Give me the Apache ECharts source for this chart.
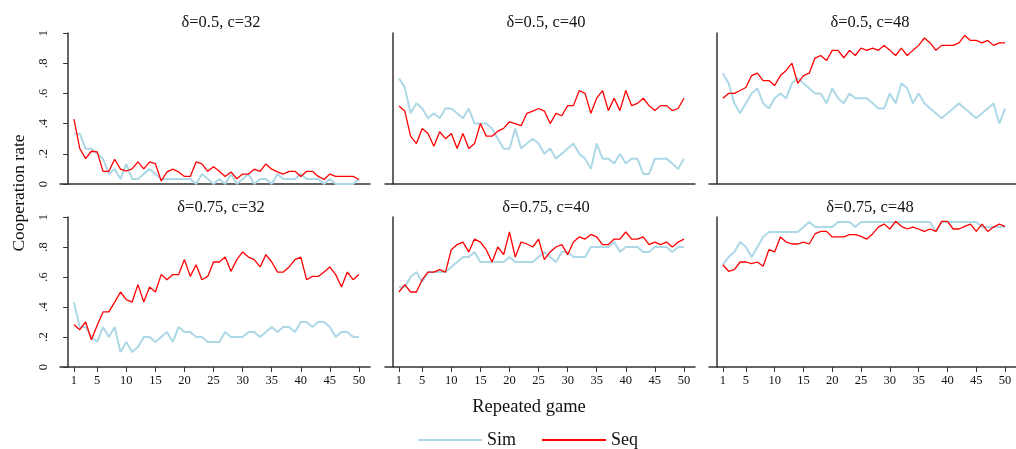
<!DOCTYPE html>
<html>
<head>
<meta charset="utf-8">
<script src="https://cdn.jsdelivr.net/npm/echarts@6/dist/echarts.min.js"></script>
<style>
html,body{margin:0;padding:0;background:#fff;}
#chart{width:1016px;height:449px;}
</style>
</head>
<body>
<div id="chart"></div>
<script>
const games = [1,2,3,4,5,6,7,8,9,10,11,12,13,14,15,16,17,18,19,20,21,22,23,24,25,26,27,28,29,30,31,32,33,34,35,36,37,38,39,40,41,42,43,44,45,46,47,48,49,50];
const xTicks = [1,5,10,15,20,25,30,35,40,45,50];
const panelTitles = ['δ=0.5, c=32','δ=0.5, c=40','δ=0.5, c=48','δ=0.75, c=32','δ=0.75, c=40','δ=0.75, c=48'];

const sim_d05_c32 = [.333,.333,.233,.233,.2,.167,.067,.1,.033,.133,.033,.033,.067,.1,.067,.033,.033,.033,.033,.033,.033,0,.067,.033,0,.033,0,.067,0,.033,.067,0,.033,.033,0,.067,.033,.033,.033,.067,.033,.033,.033,0,.033,0,0,0,0,.033];
const seq_d05_c32 = [.43,.235,.168,.217,.213,.084,.084,.164,.098,.086,.1,.146,.1,.146,.135,.02,.08,.098,.08,.05,.05,.146,.133,.084,.115,.084,.05,.08,.035,.066,.066,.098,.084,.133,.098,.08,.066,.084,.084,.05,.084,.084,.05,.03,.066,.05,.05,.05,.05,.03];

const sim_d05_c40 = [.70,.64,.468,.534,.50,.435,.468,.435,.50,.50,.468,.435,.50,.40,.40,.40,.368,.30,.233,.233,.368,.235,.268,.30,.268,.20,.235,.168,.2,.235,.268,.2,.168,.10,.268,.168,.168,.135,.2,.135,.168,.168,.067,.067,.168,.168,.168,.135,.10,.168];
const seq_d05_c40 = [.517,.483,.317,.268,.368,.335,.25,.346,.30,.335,.235,.335,.235,.268,.40,.317,.317,.35,.368,.412,.40,.386,.468,.483,.50,.483,.40,.468,.452,.519,.519,.619,.60,.468,.568,.619,.486,.568,.486,.619,.519,.534,.568,.519,.486,.519,.519,.486,.50,.568];

const sim_d05_c48 = [.734,.667,.534,.468,.534,.60,.634,.534,.50,.568,.60,.568,.667,.70,.667,.634,.60,.60,.534,.634,.568,.534,.60,.568,.568,.568,.534,.50,.50,.60,.534,.667,.634,.534,.60,.534,.50,.468,.435,.468,.50,.534,.50,.468,.435,.468,.50,.534,.40,.50];
const seq_d05_c48 = [.568,.60,.60,.619,.639,.718,.734,.685,.685,.652,.718,.752,.80,.667,.718,.734,.834,.851,.818,.885,.885,.836,.885,.851,.90,.885,.90,.885,.918,.885,.851,.90,.851,.885,.918,.967,.934,.885,.918,.918,.918,.934,.984,.951,.951,.934,.951,.918,.934,.934];

const sim_d075_c32 = [.431,.267,.267,.20,.167,.267,.20,.267,.10,.167,.10,.133,.20,.20,.167,.20,.233,.167,.267,.233,.233,.20,.20,.167,.167,.167,.233,.20,.20,.20,.233,.233,.20,.233,.267,.233,.267,.267,.233,.30,.30,.267,.30,.30,.267,.20,.233,.233,.20,.20];
const seq_d075_c32 = [.282,.249,.30,.182,.278,.367,.367,.433,.50,.449,.433,.549,.433,.533,.50,.616,.582,.616,.616,.716,.604,.682,.582,.604,.70,.70,.733,.638,.716,.767,.733,.716,.667,.749,.70,.633,.633,.667,.716,.733,.582,.604,.604,.633,.667,.616,.533,.633,.582,.616];

const sim_d075_c40 = [.533,.533,.60,.633,.567,.633,.633,.633,.633,.667,.70,.733,.733,.767,.70,.70,.70,.70,.70,.733,.70,.70,.70,.70,.733,.767,.733,.70,.767,.767,.733,.733,.733,.80,.80,.80,.80,.833,.767,.80,.80,.80,.767,.767,.80,.80,.80,.767,.80,.80];
const seq_d075_c40 = [.50,.549,.50,.50,.582,.633,.633,.649,.633,.782,.816,.833,.767,.853,.833,.782,.70,.80,.749,.90,.733,.833,.82,.80,.853,.716,.767,.80,.816,.749,.833,.867,.853,.884,.867,.816,.816,.853,.853,.90,.853,.853,.867,.816,.833,.816,.833,.80,.833,.853];

const sim_d075_c48 = [.682,.733,.767,.833,.80,.733,.80,.867,.90,.90,.90,.90,.90,.90,.933,.967,.933,.933,.933,.933,.967,.967,.967,.933,.967,.967,.967,.967,.967,.967,.967,.967,.967,.967,.967,.967,.967,.90,.967,.967,.967,.967,.967,.967,.967,.933,.933,.933,.933,.933];
const seq_d075_c48 = [.682,.638,.649,.70,.70,.689,.70,.671,.782,.767,.867,.833,.82,.82,.833,.82,.887,.904,.904,.867,.867,.867,.882,.882,.871,.853,.887,.933,.953,.92,.971,.938,.92,.933,.92,.904,.92,.904,.971,.971,.92,.92,.938,.953,.904,.953,.904,.933,.953,.938];

const simSets = [sim_d05_c32, sim_d05_c40, sim_d05_c48, sim_d075_c32, sim_d075_c40, sim_d075_c48];
const seqSets = [seq_d05_c32, seq_d05_c40, seq_d05_c48, seq_d075_c32, seq_d075_c40, seq_d075_c48];

const FONT = 'Liberation Serif';
const SIM_COLOR = '#ADD8E6';
const SEQ_COLOR = '#FF0000';
const AXIS_COLOR = '#333';
const lefts = [60, 385, 709];
const tops = [33, 217];
const W = 310;

const grids = [], xAxes = [], yAxes = [], series = [], titles = [];
for (let p = 0; p < 6; p++) {
  const col = p % 3, row = Math.floor(p / 3);
  grids.push({left: lefts[col], top: tops[row], width: W, height: row === 0 ? 151 : 150});
  xAxes.push({
    type: 'value', gridIndex: p, min: -1.4, max: 51.9,
    splitLine: {show: false},
    axisLine: {show: true, lineStyle: {color: AXIS_COLOR, width: 1.5}},
    axisTick: {show: row === 1, length: 5, lineStyle: {color: AXIS_COLOR, width: 1}, customValues: xTicks},
    axisLabel: {show: row === 1, customValues: xTicks, margin: 7, color: '#111', fontFamily: FONT, fontSize: 12.5}
  });
  yAxes.push({
    type: 'value', gridIndex: p, min: 0, max: 1, interval: 0.2,
    splitLine: {show: false},
    axisLine: {show: true, lineStyle: {color: AXIS_COLOR, width: 1.5}},
    axisTick: {show: col === 0, length: 5, lineStyle: {color: AXIS_COLOR, width: 1}},
    axisLabel: {
      show: col === 0, rotate: 90, margin: 10, color: '#111', fontFamily: FONT, fontSize: 12.5,
      formatter: v => { const s = (+v.toFixed(1)).toString(); return s.replace(/^0\./, '.'); }
    }
  });
  series.push({
    name: 'Sim', type: 'line', xAxisIndex: p, yAxisIndex: p, symbol: 'none', silent: true,
    lineStyle: {color: SIM_COLOR, width: 2}, itemStyle: {color: SIM_COLOR},
    data: games.map((g, k) => [g, simSets[p][k]])
  });
  series.push({
    name: 'Seq', type: 'line', xAxisIndex: p, yAxisIndex: p, symbol: 'none', silent: true,
    lineStyle: {color: SEQ_COLOR, width: 1.3}, itemStyle: {color: SEQ_COLOR},
    data: games.map((g, k) => [g, seqSets[p][k]])
  });
  titles.push({
    text: panelTitles[p], left: lefts[col] + 156, top: row === 0 ? 9 : 194, textAlign: 'center',
    textStyle: {fontFamily: FONT, fontSize: 16.5, fontWeight: 'normal', color: '#111'}
  });
}

const chart = echarts.init(document.getElementById('chart'), null, {renderer: 'canvas'});
chart.setOption({
  animation: false,
  backgroundColor: '#fff',
  title: titles,
  grid: grids,
  xAxis: xAxes,
  yAxis: yAxes,
  series: series,
  legend: {
    data: [{name: 'Sim', icon: 'rect'}, {name: 'Seq', icon: 'rect'}],
    left: 413, top: 426, itemWidth: 64, itemHeight: 2, itemGap: 26,
    textStyle: {fontFamily: FONT, fontSize: 18, color: '#111'},
    selectedMode: false
  },
  graphic: [
    {type: 'text', x: 19, y: 193, rotation: Math.PI / 2,
     style: {text: 'Cooperation rate', font: '17.5px "Liberation Serif"', fill: '#111', align: 'center', verticalAlign: 'middle'}},
    {type: 'text', x: 529, y: 407,
     style: {text: 'Repeated game', font: '18.5px "Liberation Serif"', fill: '#111', align: 'center', verticalAlign: 'middle'}}
  ]
});
</script>
</body>
</html>
